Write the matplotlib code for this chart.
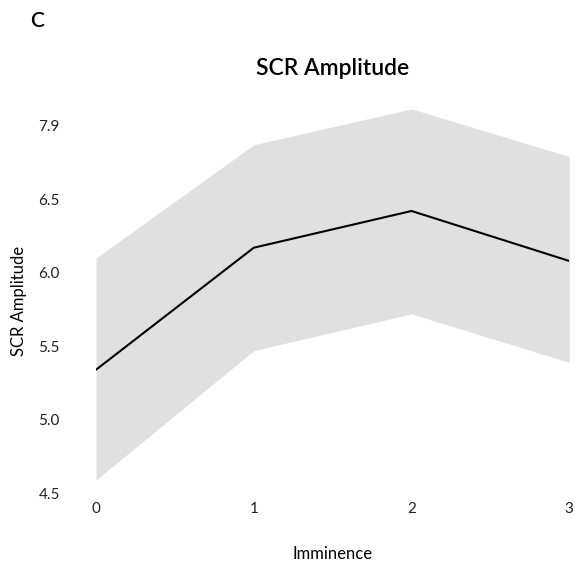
import matplotlib.pyplot as plt
import numpy as np

plt.rcParams['font.family'] = ['Lato', 'DejaVu Sans']

imminence = [0, 1, 2, 3]
scrMean = [5.34, 6.17, 6.42, 6.08]
scrUpper = [6.10, 6.87, 7.115, 6.79]
scrLower = [4.59, 5.47, 5.72, 5.39]
yTicks = [4.5, 5.0, 5.5, 6.0, 6.5, 7.0]
yTickLabels = ['4.5', '5.0', '5.5', '6.0', '6.5', '7.9']

fig = plt.figure(figsize=(5.75, 5.63), dpi=100)
ax = fig.add_axes([0.167, 0.124, 0.823, 0.684])

ax.fill_between(imminence, scrLower, scrUpper, color='#e0e0e0', linewidth=0)
ax.plot(imminence, scrMean, color='black', linewidth=1.5)

ax.set_xlim(0, 3)
ax.set_ylim(4.5, 7.12)
ax.set_xticks(imminence)
ax.set_yticks(yTicks)
ax.set_yticklabels(yTickLabels)
ax.tick_params(length=0, labelsize=11, colors='#222222')
ax.tick_params(axis='x', pad=6)
ax.tick_params(axis='y', pad=26)
for s in ax.spines.values():
	s.set_visible(False)

ax.set_xlabel('Imminence', fontsize=12, labelpad=22)
ax.set_ylabel('SCR Amplitude', fontsize=12, labelpad=8)
ax.set_title('SCR Amplitude', fontsize=16.5, fontweight='semibold', pad=24)
fig.text(0.052, 0.963, 'C', fontsize=15, fontweight='semibold', va='center', ha='left')

plt.savefig('out.png', dpi=100)
